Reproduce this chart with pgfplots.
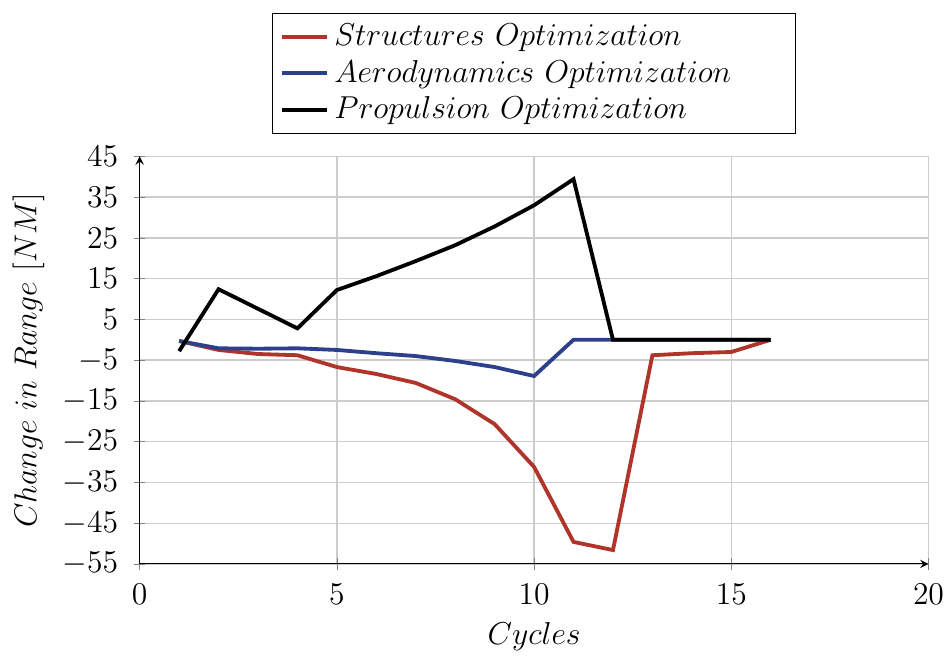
\documentclass[border=0pt]{standalone}
\usepackage{pgfplots}
\pgfplotsset{compat=1.18}
\definecolor{sred}{RGB}{176,52,42}
\definecolor{ablue}{RGB}{44,64,140}
\newcommand{\legbox}[1]{\makebox[170pt][l]{#1}}
\begin{document}
\begin{tikzpicture}
\begin{axis}[
  scale only axis,
  width=299pt, height=154.5pt,
  axis lines=left,
  xmin=0, xmax=20, ymin=-55, ymax=45,
  xtick={0,5,10,15,20},
  ytick={-55,-45,-35,-25,-15,-5,5,15,25,35,45},
  grid=major,
  grid style={gray!40, line width=0.5pt},
  tick label style={font=\fontsize{11.5}{13}\selectfont},
  yticklabel style={xshift=-2.5pt},
  xticklabel style={yshift=-2pt, inner xsep=0pt},
  label style={font=\large},
  xlabel={$Cycles$},
  ylabel={$Change\ in\ Range\ [NM]$},
  legend style={at={(0.5,1.055)}, anchor=south, draw=black, font=\large, legend cell align=left},
  every axis plot/.append style={line width=1.45pt},
]
\addplot[sred] coordinates {
(1,-0.3) (2,-2.5) (3,-3.5) (4,-3.8) (5,-6.7) (6,-8.4) (7,-10.6) (8,-14.6)
(9,-20.7) (10,-31.2) (11,-49.6) (12,-51.6) (13,-3.8) (14,-3.3) (15,-3.0) (16,0)};
\addlegendentry{\legbox{$Structures\ Optimization$}}
\addplot[ablue] coordinates {
(1,-0.3) (2,-2.1) (3,-2.2) (4,-2.1) (5,-2.5) (6,-3.3) (7,-4.0) (8,-5.2)
(9,-6.7) (10,-8.9) (11,0) (12,0) (13,0) (14,0) (15,0) (16,0)};
\addlegendentry{\legbox{$Aerodynamics\ Optimization$}}
\addplot[black] coordinates {
(1,-2.8) (2,12.4) (3,7.6) (4,2.8) (5,12.2) (6,15.6) (7,19.3) (8,23.2)
(9,27.8) (10,33) (11,39.4) (12,0) (13,0) (14,0) (15,0) (16,0)};
\addlegendentry{\legbox{$Propulsion\ Optimization$}}
\end{axis}
\path (current bounding box.north west) ++(-1.5pt,5pt);
\end{tikzpicture}
\end{document}
